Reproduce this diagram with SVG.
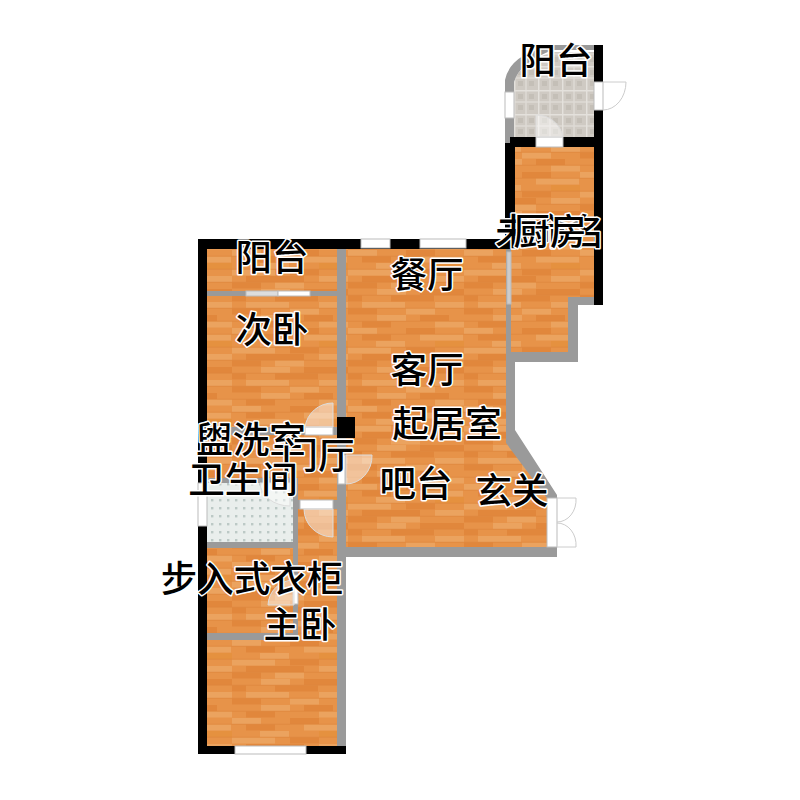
<svg xmlns="http://www.w3.org/2000/svg" width="800" height="800" viewBox="0 0 800 800">
<style>
.w{fill:#000}.g{fill:#9a9a9a}.f{fill:url(#wood)}
.win{fill:#fff;stroke:#bbb;stroke-width:1}
.d{fill:#fff;fill-opacity:.45;stroke:#ddd;stroke-width:1}
.do{fill:none;stroke:#ccc;stroke-width:1}
.a{fill:#eba35f}.b{fill:#e1873c}.c{fill:#e5913f}
text{font-family:"Noto Sans CJK SC","Noto Sans",sans-serif;font-size:36.5px;font-weight:500;fill:#000;stroke:#fff;stroke-width:3;paint-order:stroke;text-anchor:middle;stroke-linejoin:round}
</style>
<defs>
<pattern id="wood" width="116" height="78" patternUnits="userSpaceOnUse" x="0" y="250">
<rect width="116" height="78" fill="#e79349"/>
<rect class="a" x="0" y="0" width="29" height="6"/><rect class="b" x="58" y="0" width="29" height="6"/>
<rect class="b" x="14" y="6.500" width="29" height="6"/><rect class="a" x="72" y="6.500" width="43" height="6"/>
<rect class="a" x="28" y="13" width="29" height="6"/><rect class="c" x="87" y="13" width="29" height="6"/>
<rect class="a" x="0" y="19.500" width="43" height="6"/><rect class="b" x="58" y="19.500" width="29" height="6"/>
<rect class="b" x="14" y="26" width="58" height="6"/><rect class="a" x="87" y="26" width="29" height="6"/>
<rect class="b" x="0" y="32.500" width="29" height="6"/><rect class="a" x="43" y="32.500" width="29" height="6"/>
<rect class="a" x="29" y="39" width="29" height="6"/><rect class="b" x="72" y="39" width="44" height="6"/>
<rect class="b" x="0" y="45.500" width="14" height="6"/><rect class="b" x="43" y="45.500" width="43" height="6"/>
<rect class="a" x="14" y="52" width="43" height="6"/><rect class="a" x="87" y="52" width="29" height="6"/>
<rect class="b" x="0" y="58.500" width="29" height="6"/><rect class="a" x="58" y="58.500" width="29" height="6"/>
<rect class="a" x="29" y="65" width="29" height="6"/><rect class="b" x="72" y="65" width="29" height="6"/>
<rect class="b" x="14" y="71.500" width="29" height="6"/><rect class="a" x="87" y="71.500" width="29" height="6"/>
<path d="M0 6.200H116M0 19.200H116M0 32.200H116M0 45.200H116M0 58.200H116M0 71.200H116" stroke="#d97e34" stroke-width=".5"/>
</pattern>
<pattern id="stone" width="24" height="24" patternUnits="userSpaceOnUse" x="514" y="42">
<rect width="24" height="24" fill="#cfcac3"/>
<path d="M0 12H24M12 0V24" stroke="#dedad5" stroke-width="1.500"/>
<path d="M0 .7H24M.7 0V24" stroke="#e4e1dc" stroke-width="1.500"/>
<rect x="4" y="4" width="5" height="5" fill="#c4bfb7"/><rect x="15" y="4" width="5" height="5" fill="#c4bfb7"/><rect x="4" y="15" width="5" height="5" fill="#c4bfb7"/><rect x="15" y="15" width="5" height="5" fill="#c4bfb7"/>
</pattern>
<pattern id="tile" width="8" height="8" patternUnits="userSpaceOnUse">
<rect width="8" height="8" fill="#e9eeec"/>
<rect x="3" y="3" width="2.400" height="2.400" fill="#bcc9c6"/>
</pattern>
</defs>

<g id="floors">
<path id="kitchen-floor" class="f" d="M515 147H594V297H568V353H511V249H515Z"/>
<path id="living-floor" class="f" d="M345 249H507V443L548 498V547H345Z"/>
<rect id="balcony-west-floor" class="f" x="207" y="249" width="130" height="43"/>
<rect id="bedroom2-floor" class="f" x="207" y="296" width="130" height="131"/>
<rect id="washroom-floor" class="f" x="207" y="435" width="130" height="48"/>
<rect id="hall-floor" class="f" x="298" y="435" width="39" height="205"/>
<rect id="closet-floor" class="f" x="207" y="548" width="87" height="86"/>
<rect id="master-floor" class="f" x="207" y="640" width="130" height="106"/>
<path id="balcony-north-floor" fill="url(#stone)" d="M514 137V82Q520 62 553 52H594V137Z"/>
<rect id="bath-floor" fill="url(#tile)" x="207" y="483" width="86" height="59"/>
</g>

<g id="walls">
<path class="g" d="M505 143V80Q510 54 553 45H594V50H553Q520 62 514 82V143Z"/>
<rect class="w" x="594" y="45" width="9" height="260"/>
<rect class="w" x="510" y="137" width="93" height="10"/>
<rect class="w" x="505" y="143" width="10" height="106"/>
<rect class="w" x="198" y="239" width="317" height="10"/>
<rect class="w" x="198" y="239" width="9" height="515"/>
<rect class="w" x="198" y="746" width="148" height="8"/>
<rect class="g" x="337" y="249" width="9" height="497"/>
<rect class="g" x="207" y="291" width="130" height="5"/>
<rect class="g" x="207" y="427" width="130" height="8"/>
<rect class="g" x="207" y="478" width="91" height="5"/>
<rect class="g" x="293" y="483" width="5" height="157"/>
<rect class="g" x="298" y="500" width="39" height="9"/>
<rect class="g" x="207" y="542" width="91" height="6"/>
<rect class="g" x="207" y="633" width="91" height="7"/>
<path class="g" d="M506 249H511V352H568V297H594V305H578V362H515V430L557 495V557H346V547H547V498L506 443Z"/>
<rect class="w" x="337" y="417" width="18" height="21"/>
</g>

<g id="openings">
<rect class="win" x="361" y="239" width="29" height="9"/>
<rect class="win" x="420" y="239" width="46" height="9"/>
<rect class="win" x="235" y="746" width="71" height="8"/>
<rect class="win" x="198" y="483" width="9" height="43"/>
<rect class="win" x="505" y="92" width="9" height="26"/>
<rect class="win" x="536" y="137" width="27" height="10"/>
<rect class="win" x="594" y="82" width="9" height="28"/>
<rect fill="#ddd" stroke="#bbb" x="246" y="291" width="32" height="5"/>
<rect class="win" x="278" y="291" width="32" height="5"/>
<rect fill="#ccc" stroke="#bbb" x="507" y="252" width="4" height="52"/>
<rect class="win" x="305" y="427" width="28" height="8"/>
<rect class="win" x="338" y="455" width="7" height="29"/>
<rect class="win" x="300" y="500" width="33" height="9"/>
<rect class="win" x="293" y="575" width="5" height="29"/>
<rect class="win" x="547" y="498" width="10" height="49"/>
</g>

<g id="doors">
<path class="d" d="M563 137A27 27 0 0 0 536 115V137Z"/>
<path class="do" d="M603 82H626A23 28 0 0 1 603 110"/>
<path class="d" d="M333 403A28 28 0 0 0 305 427H333Z"/>
<path class="d" d="M346 455H372A26 28 0 0 1 346 484Z"/>
<path class="d" d="M333 509H304A29 28 0 0 0 333 537Z"/>
<path class="d" d="M290 483V506A30 24 0 0 1 260 483Z"/>
<path class="d" d="M294 605H268A26 26 0 0 1 294 580Z"/>
<path class="do" d="M557 498H576A19 22 0 0 1 557 522M557 547H576A19 22 0 0 0 557 523"/>
</g>

<g id="labels">
<text x="556" y="74">阳台</text>
<text x="272" y="271">阳台</text>
<text x="427" y="288">餐厅</text>
<text x="550" y="245">未命名</text>
<text x="550" y="245">厨房</text>
<text x="272" y="343">次卧</text>
<text x="427" y="383">客厅</text>
<text x="447" y="437">起居室</text>
<text x="251" y="453">盥洗室</text>
<text x="318" y="469">门厅</text>
<text x="243" y="493">卫生间</text>
<text x="416" y="497">吧台</text>
<text x="512" y="504">玄关</text>
<text x="252" y="592">步入式衣柜</text>
<text x="300" y="638">主卧</text>
</g>
</svg>
